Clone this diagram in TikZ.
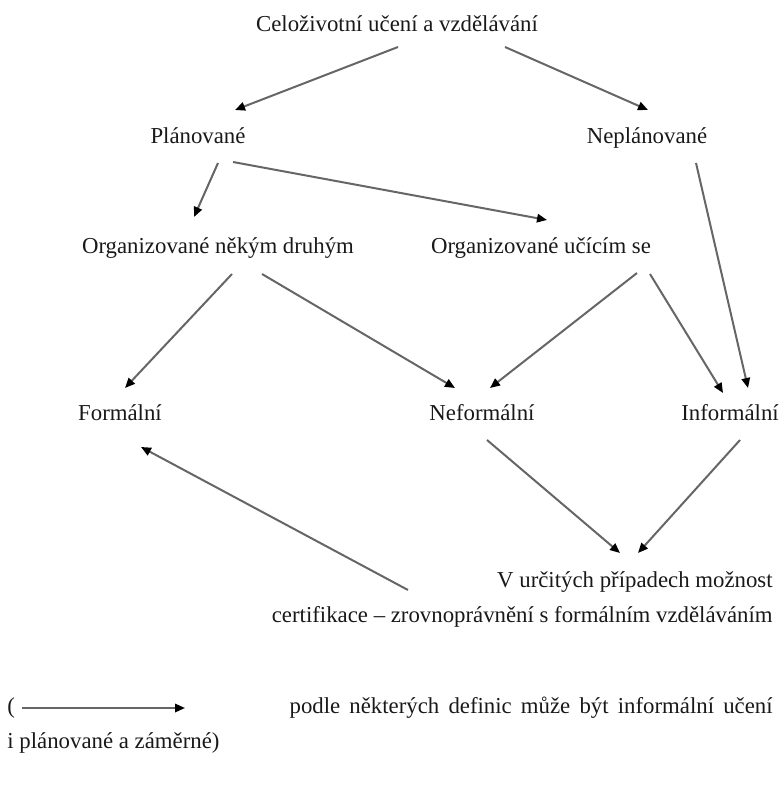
\documentclass[tikz,border=0pt]{standalone}
\usepackage{fontspec}
\setmainfont{Liberation Serif}
\usetikzlibrary{arrows.meta}
\tikzset{
  lbl/.style={inner sep=0pt, text=black!90, font=\fontsize{11.4}{13.7}\selectfont},
  arr/.style={draw=black!60, line width=1pt, -{Triangle[length=5pt,width=4.2pt,color=black]}},
}
\begin{document}
\begin{tikzpicture}[x=0.5pt,y=-0.5pt]
\useasboundingbox (0,0) rectangle (783,785);
% uzly
\node[lbl,anchor=base] (celo) at (397,32) {Celoživotní učení a vzdělávání};
\node[lbl,anchor=base] (plan) at (198,144) {Plánované};
\node[lbl,anchor=base] (neplan) at (647,144) {Neplánované};
\node[lbl,anchor=base] (orgd) at (218,254) {Organizované někým druhým};
\node[lbl,anchor=base] (orgu) at (541,254) {Organizované učícím se};
\node[lbl,anchor=base] (formal) at (120,420) {Formální};
\node[lbl,anchor=base] (neformal) at (482,420) {Neformální};
\node[lbl,anchor=base] (informal) at (730,420) {Informální};
\node[lbl,anchor=base east] (cert1) at (773,587) {V určitých případech možnost};
\node[lbl,anchor=base east] (cert2) at (773,622) {certifikace -- zrovnoprávnění s formálním vzděláváním};
% legenda
\node[lbl,anchor=base west] (paren) at (7,713) {(};
\coordinate (legtip) at (185,708);
\node[lbl,anchor=base east] (leg1) at (773,713)
  {\makebox[241.5pt][s]{podle některých definic může být informální učení}};
\node[lbl,anchor=base west] (leg2) at (7,748) {i plánované a záměrné)};
% sipky
\draw[arr] ([shift={(1,15)}]celo.base) -- ([shift={(37,-34)}]plan.base);
\draw[arr] ([shift={(108,15)}]celo.base) -- ([shift={(1,-34)}]neplan.base);
\draw[arr] ([shift={(20,19)}]plan.base) -- ([shift={(-24,-37)}]orgd.base);
\draw[arr] ([shift={(35,18)}]plan.base) -- ([shift={(6,-34)}]orgu.base);
\draw[arr] ([shift={(49,19)}]neplan.base) -- ([shift={(18,-32)}]informal.base);
\draw[arr] ([shift={(14,20)}]orgd.base) -- ([shift={(5,-32)}]formal.base);
\draw[arr] ([shift={(44,20)}]orgd.base) -- ([shift={(-27,-32)}]neformal.base);
\draw[arr] ([shift={(96,19)}]orgu.base) -- ([shift={(8,-32)}]neformal.base);
\draw[arr] ([shift={(109,20)}]orgu.base) -- ([shift={(-7,-27)}]informal.base);
\draw[arr] ([shift={(5,20)}]neformal.base) -- ([shift={(-153,-34)}]cert1.base east);
\draw[arr] ([shift={(10,20)}]informal.base) -- ([shift={(-135,-34)}]cert1.base east);
\draw[arr] ([shift={(-365,-32)}]cert2.base east) -- ([shift={(21,27)}]formal.base);
\draw[arr] ([shift={(7,-5)}]paren.base east) -- (legtip);
\end{tikzpicture}
\end{document}
